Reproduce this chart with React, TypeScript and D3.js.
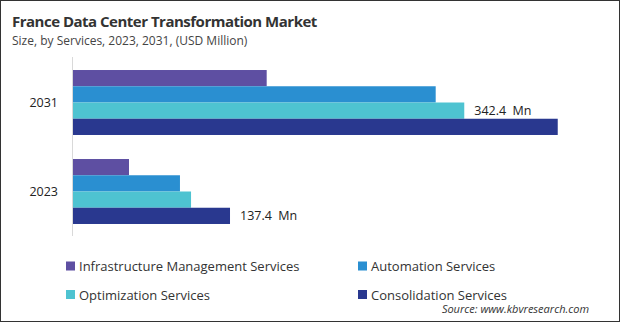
import React from "react";
import * as d3 from "d3";

const years = ["2031", "2023"];
const series = [
  "Infrastructure Management Services",
  "Automation Services",
  "Optimization Services",
  "Consolidation Services",
];
const colors = ["#5E4FA2", "#2A8FD1", "#4EC3D1", "#29388F"];
const values2031 = [169.5, 317.4, 342.4, 424.2];
const values2023 = [49.0, 93.6, 103.3, 137.4];
const labels = [
  { year: "2031", series: "Optimization Services", text: "342.4  Mn" },
  { year: "2023", series: "Consolidation Services", text: "137.4  Mn" },
];

const W = 620;
const H = 322;
const font = "'Open Sans', 'Noto Sans', sans-serif";

export default function App() {
  const valuesByYear: Record<string, number[]> = { "2031": values2031, "2023": values2023 };
  const x = d3.scaleLinear().domain([0, 450]).range([73, 73 + 450 * 1.1427]);
  const y = d3.scaleBand<string>().domain(years).range([58, 236]).paddingInner(0.27).paddingOuter(0.135);
  const yi = d3.scaleBand<string>().domain(series).range([0, y.bandwidth()]);

  return (
    <svg width={W} height={H} style={{ position: "absolute", left: 0, top: 0, display: "block" }}>
      <rect x={0.5} y={0.5} width={W - 1} height={H - 1} fill="#fff" stroke="#333" strokeWidth={1} />
      <text x={12} y={27} fontFamily={font} fontWeight={700} fontSize={15} letterSpacing={-0.5} fill="#333">
        France Data Center Transformation Market
      </text>
      <text x={12} y={45} fontFamily={font} fontSize={12} fill="#444">
        Size, by Services, 2023, 2031, (USD Million)
      </text>
      <line x1={72.5} x2={72.5} y1={57} y2={236} stroke="#d9d9d9" strokeWidth={1} />
      {years.map((yr) => (
        <g key={yr}>
          <text
            x={58}
            y={(y(yr) ?? 0) + y.bandwidth() / 2}
            textAnchor="end"
            dominantBaseline="central"
            fontFamily={font}
            fontSize={12.5}
            fill="#222"
          >
            {yr}
          </text>
          {series.map((s, i) => (
            <rect
              key={s}
              x={x(0)}
              y={(y(yr) ?? 0) + (yi(s) ?? 0)}
              width={x(valuesByYear[yr][i]) - x(0)}
              height={yi.bandwidth()}
              fill={colors[i]}
            />
          ))}
        </g>
      ))}
      {labels.map((l) => {
        const i = series.indexOf(l.series);
        return (
          <text
            key={l.year}
            x={x(valuesByYear[l.year][i]) + 10}
            y={(y(l.year) ?? 0) + (yi(l.series) ?? 0) + yi.bandwidth() / 2}
            dominantBaseline="central"
            fontFamily={font}
            fontSize={12.5}
            fill="#222"
            style={{ whiteSpace: "pre" }}
          >
            {l.text}
          </text>
        );
      })}
      {series.map((s, i) => {
        const col = i % 2;
        const row = Math.floor(i / 2);
        const lx = col === 0 ? 66 : 358;
        const ly = row === 0 ? 266 : 294.5;
        return (
          <g key={s}>
            <rect x={lx} y={ly - 4.5} width={9} height={9} fill={colors[i]} />
            <text x={lx + 13} y={ly} dominantBaseline="central" fontFamily={font} fontSize={13} fill="#333">
              {s}
            </text>
          </g>
        );
      })}
      <text
        x={589}
        y={313}
        textAnchor="end"
        fontFamily={font}
        fontStyle="italic"
        fontSize={11}
        fill="#333"
      >
        Source: www.kbvresearch.com
      </text>
    </svg>
  );
}
